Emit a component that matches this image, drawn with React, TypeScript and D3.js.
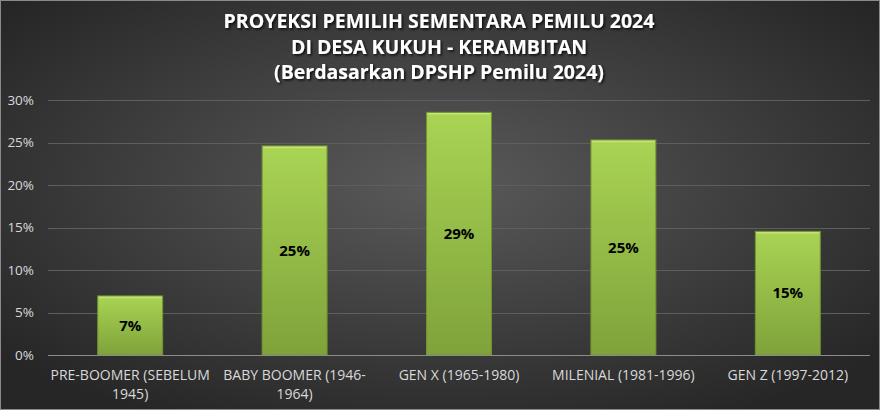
import React from 'react';
import * as d3 from 'd3';

const titleLines = [
  'PROYEKSI PEMILIH SEMENTARA PEMILU 2024',
  'DI DESA KUKUH - KERAMBITAN',
  '(Berdasarkan DPSHP Pemilu 2024)',
];

const categories = [
  'PRE-BOOMER (SEBELUM 1945)',
  'BABY BOOMER (1946-1964)',
  'GEN X (1965-1980)',
  'MILENIAL (1981-1996)',
  'GEN Z (1997-2012)',
];

const shares = [0.0695, 0.246, 0.2855, 0.253, 0.1455];

const yTicks = [0, 0.05, 0.1, 0.15, 0.2, 0.25, 0.3];

const width = 880;
const height = 410;
const margin = { left: 48, right: 10, top: 100, bottom: 55 };
const font = '"Open Sans", "DejaVu Sans", sans-serif';

type AnySelection = d3.Selection<any, unknown, null, undefined>;

// break a label after spaces or hyphens so it fits inside the band
const wrapLabel = (text: AnySelection, maxWidth: number) => {
  text.each(function (this: SVGTextElement) {
    const node = d3.select(this);
    const words = node.text().match(/[^\s-]+-?|-/g) || [];
    const x = node.attr('x');
    node.text(null);
    const lines: string[] = [];
    let line = '';
    const probe = node.append('tspan');
    words.forEach((w) => {
      const glue = line && !line.endsWith('-') ? ' ' : '';
      const attempt = line + glue + w;
      probe.text(attempt);
      if ((probe.node() as SVGTSpanElement).getComputedTextLength() > maxWidth && line) {
        lines.push(line);
        line = w;
      } else {
        line = attempt;
      }
    });
    if (line) lines.push(line);
    probe.remove();
    lines.forEach((l, i) => {
      node.append('tspan').attr('x', x).attr('dy', i === 0 ? 0 : 19).text(l);
    });
  });
};

const App: React.FC = () => {
  const svgRef = React.useRef<SVGSVGElement>(null);

  React.useEffect(() => {
    const svg = d3.select(svgRef.current);
    svg.selectAll('*').remove();

    const defs = svg.append('defs');
    const bg = defs.append('radialGradient')
      .attr('id', 'bg')
      .attr('cx', '50%').attr('cy', '45%').attr('r', '65%');
    bg.append('stop').attr('offset', '0%').attr('stop-color', '#5a5a5a');
    bg.append('stop').attr('offset', '100%').attr('stop-color', '#262626');

    const barGrad = defs.append('linearGradient')
      .attr('id', 'bar')
      .attr('x1', 0).attr('y1', 0).attr('x2', 0).attr('y2', 1);
    barGrad.append('stop').attr('offset', '0%').attr('stop-color', '#a9d454');
    barGrad.append('stop').attr('offset', '100%').attr('stop-color', '#7fa23a');

    const shadow = defs.append('filter').attr('id', 'shadow')
      .attr('x', '-5%').attr('y', '-30%').attr('width', '110%').attr('height', '160%');
    shadow.append('feDropShadow')
      .attr('dx', 1.5).attr('dy', 1.5).attr('stdDeviation', 1.2)
      .attr('flood-color', '#000').attr('flood-opacity', 0.8);

    svg.append('rect')
      .attr('width', width).attr('height', height)
      .attr('fill', 'url(#bg)');
    svg.append('rect')
      .attr('x', 0.5).attr('y', 0.5)
      .attr('width', width - 1).attr('height', height - 1)
      .attr('fill', 'none').attr('stroke', '#8a8a8a').attr('stroke-width', 1);

    svg.append('g')
      .selectAll('text')
      .data(titleLines)
      .join('text')
        .attr('x', width / 2 - 1)
        .attr('y', (_, i) => 28 + i * 25.5)
        .attr('text-anchor', 'middle')
        .attr('fill', '#ffffff')
        .attr('font-family', font)
        .attr('font-weight', 'bold')
        .attr('font-size', 19.5)
        .attr('filter', 'url(#shadow)')
        .text((d) => d);

    const xScale = d3.scaleBand()
      .domain(categories)
      .range([margin.left, width - margin.right])
      .paddingInner(0.605)
      .paddingOuter(0.3025);

    const yScale = d3.scaleLinear()
      .domain([0, 0.3])
      .range([height - margin.bottom, margin.top]);

    svg.append('g')
      .attr('class', 'grid')
      .selectAll('line')
      .data(yTicks.slice(1))
      .join('line')
        .attr('x1', margin.left)
        .attr('x2', width - margin.right)
        .attr('y1', (d) => Math.round(yScale(d)) + 0.5)
        .attr('y2', (d) => Math.round(yScale(d)) + 0.5)
        .attr('stroke', '#5e5e5e')
        .attr('stroke-width', 1);

    svg.append('g')
      .attr('class', 'y-axis')
      .attr('transform', `translate(${margin.left - 14}, 0)`)
      .call(d3.axisLeft(yScale).tickValues(yTicks).tickFormat(d3.format('.0%')).tickSize(0))
      .call((g: AnySelection) => g.select('.domain').remove())
      .call((g: AnySelection) => g.selectAll('text')
        .attr('fill', '#d9d9d9')
        .attr('font-family', font)
        .attr('font-size', 13.5)
        .attr('x', 0)
      );

    const bars = svg.append('g').attr('class', 'plot-area');
    bars.selectAll('.bar')
      .data(shares)
      .join('rect')
        .attr('class', 'bar')
        .attr('x', (_, i) => xScale(categories[i])!)
        .attr('y', (d) => yScale(d))
        .attr('width', xScale.bandwidth())
        .attr('height', (d) => yScale(0) - yScale(d))
        .attr('fill', 'url(#bar)')
        .attr('stroke', '#73952f')
        .attr('stroke-width', 1);
    bars.selectAll('.bar-top')
      .data(shares)
      .join('line')
        .attr('class', 'bar-top')
        .attr('x1', (_, i) => xScale(categories[i])! + 1)
        .attr('x2', (_, i) => xScale(categories[i])! + xScale.bandwidth() - 1)
        .attr('y1', (d) => yScale(d) + 1.5)
        .attr('y2', (d) => yScale(d) + 1.5)
        .attr('stroke', '#c3e47a')
        .attr('stroke-width', 1.5);

    bars.selectAll('.bar-label')
      .data(shares)
      .join('text')
        .attr('class', 'bar-label')
        .attr('x', (_, i) => xScale(categories[i])! + xScale.bandwidth() / 2)
        .attr('y', (d) => (yScale(d) + yScale(0)) / 2)
        .attr('dy', '0.35em')
        .attr('text-anchor', 'middle')
        .attr('fill', '#000')
        .attr('font-family', font)
        .attr('font-weight', 'bold')
        .attr('font-size', 15)
        .text((d) => `${Math.round(d * 100)}%`);

    svg.append('line')
      .attr('x1', margin.left)
      .attr('x2', width - margin.right)
      .attr('y1', yScale(0) + 0.5)
      .attr('y2', yScale(0) + 0.5)
      .attr('stroke', '#8c8c8c')
      .attr('stroke-width', 1.2);

    svg.append('g')
      .attr('class', 'x-axis')
      .selectAll('text')
      .data(categories)
      .join('text')
        .attr('x', (d) => xScale(d)! + xScale.bandwidth() / 2)
        .attr('y', yScale(0) + 25)
        .attr('text-anchor', 'middle')
        .attr('fill', '#d9d9d9')
        .attr('font-family', font)
        .attr('font-size', 14)
        .text((d) => d)
        .call((t: AnySelection) => wrapLabel(t, xScale.step() - 2));
  }, []);

  return (
    <svg
      ref={svgRef}
      width={width}
      height={height}
      style={{ position: 'absolute', left: 0, top: 0, display: 'block' }}
    />
  );
};

export default App;
